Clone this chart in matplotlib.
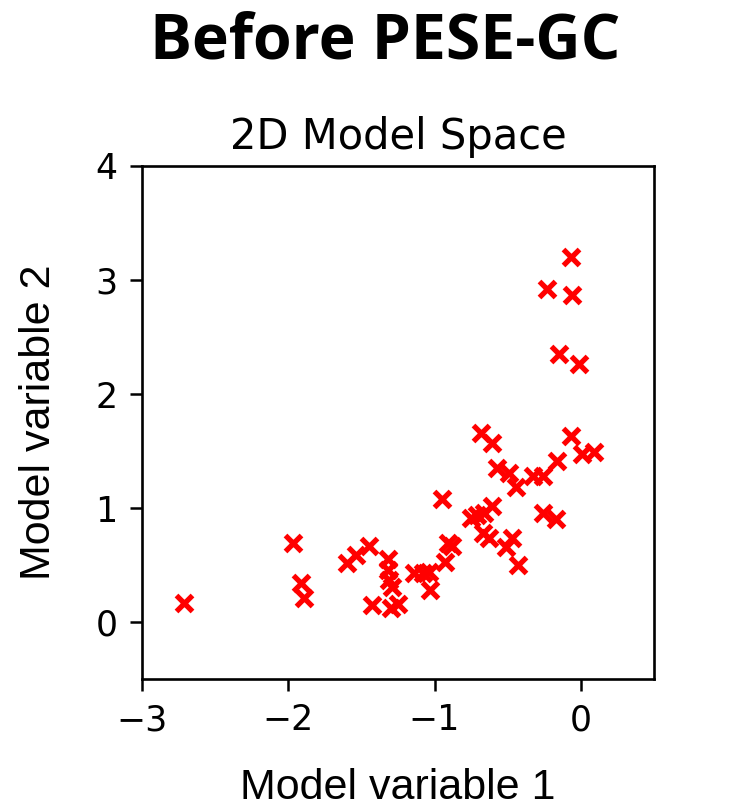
import matplotlib
matplotlib.use('Agg')
import matplotlib.pyplot as plt

# points
model_var_1 = [-2.71, -1.97, -1.91, -1.89, -1.60, -1.54, -1.45, -1.43, -1.32, -1.32,
               -1.31, -1.29, -1.30, -1.25, -1.14, -1.08, -1.04, -1.03, -0.95, -0.93,
               -0.91, -0.88, -0.75, -0.71, -0.66, -0.61, -0.67, -0.63, -0.68, -0.61,
               -0.57, -0.49, -0.44, -0.51, -0.47, -0.43, -0.33, -0.26, -0.26, -0.17,
               -0.16, -0.07, 0.01, 0.09, -0.07, -0.23, -0.06, -0.15, -0.01]
model_var_2 = [0.17, 0.69, 0.34, 0.21, 0.52, 0.59, 0.67, 0.15, 0.55, 0.46,
               0.37, 0.31, 0.12, 0.16, 0.43, 0.43, 0.44, 0.28, 1.08, 0.53,
               0.69, 0.67, 0.91, 0.94, 0.96, 1.02, 0.78, 0.74, 1.66, 1.57,
               1.35, 1.31, 1.18, 0.66, 0.74, 0.50, 1.28, 1.28, 0.96, 0.90,
               1.41, 1.63, 1.47, 1.49, 3.20, 2.92, 2.87, 2.35, 2.26]

fig = plt.figure(figsize=(7.33, 8.07), dpi=100)
ax = fig.add_axes([0.1937, 0.1586, 0.6985, 0.6357])

ax.plot(model_var_1, model_var_2, 'x', color='red', ms=12, mew=3.8, linestyle='none')

ax.set_xlim(-3, 0.5)
ax.set_ylim(-0.5, 4)
ax.set_xticks([-3, -2, -1, 0])
ax.set_yticks([0, 1, 2, 3, 4])
ax.tick_params(labelsize=25, length=8.6, width=1.8, pad=9)
for s in ax.spines.values():
    s.set_linewidth(1.9)

ax.set_title('2D Model Space', fontsize=30, pad=12)
ax.set_xlabel('Model variable 1', fontsize=31, family='Liberation Sans', labelpad=22)
ax.set_ylabel('Model variable 2', fontsize=31, family='Liberation Sans', labelpad=26)

fig.text(0.525, 0.948, 'Before PESE-GC', fontsize=45, fontweight='bold',
         family='Open Sans', ha='center', va='center')

plt.savefig('out.png', dpi=100)
